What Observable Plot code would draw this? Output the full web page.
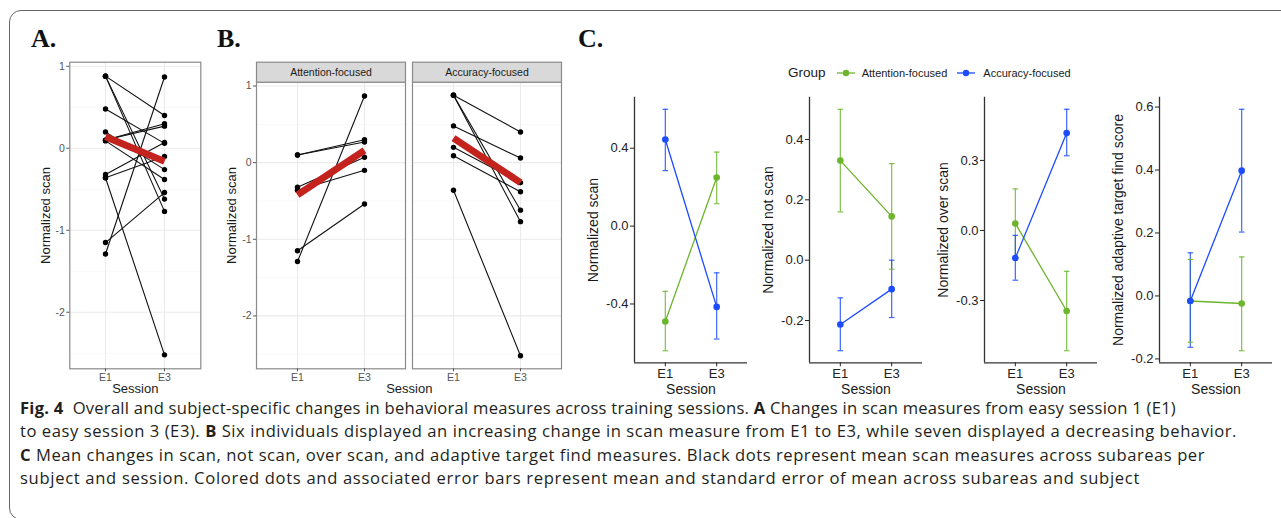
<!DOCTYPE html>
<html><head><meta charset="utf-8">
<script src="https://cdn.jsdelivr.net/npm/d3@7"></script>
<script src="https://cdn.jsdelivr.net/npm/@observablehq/plot@0.6"></script>
<style>
html,body{margin:0;padding:0;background:#fff;}
#page{position:relative;width:1281px;height:518px;overflow:hidden;font-family:"Liberation Sans",Arial,sans-serif;}
.plabel{position:absolute;font-family:"Liberation Serif","Times New Roman",serif;font-weight:bold;font-size:26px;line-height:26px;color:#111;}
.cap{position:absolute;left:20px;font-family:"Open Sans",sans-serif;font-size:16.6px;line-height:14px;white-space:nowrap;color:#231f20;}
.leg{position:absolute;white-space:nowrap;color:#1a1a1a;font-family:"Liberation Sans",Arial,sans-serif;}
</style></head>
<body><div id="page">
<div style="position:absolute;left:9px;top:10px;width:1300px;height:510px;border:1.5px solid #666;border-radius:12px;box-sizing:border-box;"></div>
<div class="plabel" style="left:31px;top:26px;">A.</div>
<div class="plabel" style="left:217px;top:26px;">B.</div>
<div class="plabel" style="left:578px;top:26px;">C.</div>
</div>
<script>
// ---------------- data ----------------
const sessions = ["E1", "E3"];
const groups = ["Attention-focused", "Accuracy-focused"];
const groupColors = ["#6CB52D", "#1D4BFF"];

// subject-level scan (panels A and B)
const subjectGroup = [
  "Attention-focused", "Attention-focused", "Attention-focused",
  "Attention-focused", "Attention-focused", "Attention-focused",
  "Accuracy-focused", "Accuracy-focused", "Accuracy-focused", "Accuracy-focused",
  "Accuracy-focused", "Accuracy-focused", "Accuracy-focused"
];
const scanE1 = [0.10, 0.10, -0.32, -0.36, -1.15, -1.29, 0.88, 0.88, 0.88, 0.48, 0.20, 0.09, -0.36];
const scanE3 = [0.27, 0.30, 0.07, -0.10, -0.54, 0.87, 0.40, -0.62, -0.77, 0.06, -0.26, -0.38, -2.52];
const trendOverall = [0.14, -0.16];
const trendAttention = [-0.42, 0.16];
const trendAccuracy = [0.32, -0.26];
const ticksAB = [-2, -1, 0, 1];
const minorAB = [-2.5, -1.5, -0.5, 0.5];

// group means and SEM (panel C); rows: scan, not scan, over scan, adaptive target find
const measureTitles = ["Normalized scan", "Normalized not scan", "Normalized over scan", "Normalized adaptive target find score"];
const measureTicks = [[-0.4, 0, 0.4], [-0.2, 0, 0.2, 0.4], [-0.3, 0, 0.3], [-0.2, 0, 0.2, 0.4, 0.6]];
const meanAttention = [[-0.49, 0.25], [0.33, 0.145], [0.03, -0.345], [-0.016, -0.024]];
const loAttention   = [[-0.64, 0.115], [0.16, -0.03], [-0.12, -0.515], [-0.147, -0.174]];
const hiAttention   = [[-0.335, 0.38], [0.50, 0.32], [0.178, -0.175], [0.116, 0.124]];
const meanAccuracy  = [[0.445, -0.415], [-0.213, -0.096], [-0.118, 0.417], [-0.016, 0.398]];
const loAccuracy    = [[0.285, -0.58], [-0.30, -0.19], [-0.213, 0.32], [-0.163, 0.203]];
const hiAccuracy    = [[0.60, -0.24], [-0.125, 0.0], [-0.021, 0.519], [0.137, 0.593]];

// ---------------- build ----------------
const page = document.getElementById("page");
const FONT = '"Liberation Sans", Arial, Helvetica, sans-serif';
const GRID_MAJOR = "#EBEBEB", GRID_MINOR = "#F3F3F3", BORDER = "#8a8a8a", RED = "#C4221D";
function place(el, left, top) {
  el.style.position = "absolute"; el.style.left = left + "px"; el.style.top = top + "px";
  page.appendChild(el);
}
function expand(lo, hi) { const p = (hi - lo) * 0.05; return [lo - p, hi + p]; }

const rows = subjectGroup.flatMap((g, i) => [
  {subject: i, group: g, session: sessions[0], value: scanE1[i]},
  {subject: i, group: g, session: sessions[1], value: scanE3[i]}
]);
const trendRowsA = sessions.map((s, j) => ({session: s, value: trendOverall[j]}));
const trendRowsB = [trendAttention, trendAccuracy].flatMap((t, k) =>
  sessions.map((s, j) => ({group: groups[k], session: s, value: t[j]})));
const yDomAB = expand(d3.min(rows, d => d.value), d3.max(rows, d => d.value));

const styleBase = {fontFamily: FONT, background: "transparent", overflow: "visible"};

// Panel A
const plotA = Plot.plot({
  width: 195, height: 350, marginLeft: 49.3, marginRight: 14.7, marginTop: 6.7, marginBottom: 36.7,
  style: styleBase,
  x: {type: "point", domain: sessions, padding: 0.6, label: null},
  y: {domain: yDomAB, label: null},
  marks: [
    Plot.ruleY(minorAB, {stroke: GRID_MINOR, strokeWidth: 0.6}),
    Plot.ruleY(ticksAB, {stroke: GRID_MAJOR, strokeWidth: 1.1}),
    Plot.ruleX(sessions, {stroke: GRID_MAJOR, strokeWidth: 1.1}),
    Plot.line(rows, {x: "session", y: "value", z: "subject", stroke: "#111", strokeWidth: 1.1}),
    Plot.dot(rows, {x: "session", y: "value", r: 2.7, fill: "#000"}),
    Plot.line(trendRowsA, {x: "session", y: "value", stroke: RED, strokeWidth: 7, strokeLinecap: "butt"}),
    Plot.frame({stroke: BORDER, strokeWidth: 1.2}),
    Plot.axisY({ticks: ticksAB, tickFormat: d => String(d), tickSize: 3, tickPadding: 2, fontSize: 10.5, color: "#555", label: null}),
    Plot.axisX({tickSize: 3, tickPadding: 2, fontSize: 10.5, color: "#555", label: null}),
    Plot.text(["Normalized scan"], {text: d => d, frameAnchor: "left", textAnchor: "middle", lineAnchor: "middle", rotate: -90, dx: -24.3, fontSize: 13, fill: "#1a1a1a"}),
    Plot.text(["Session"], {text: d => d, frameAnchor: "bottom", lineAnchor: "middle", dy: 19.9, fontSize: 13, fill: "#1a1a1a"})
  ]
});
place(plotA, 20, 55);

// Panel B
const plotB = Plot.plot({
  width: 352, height: 350, marginLeft: 40, marginRight: 5.3, marginTop: 26.7, marginBottom: 36.7,
  style: styleBase,
  fx: {domain: groups, paddingInner: 0.0428, paddingOuter: 0, axis: null, label: null},
  x: {type: "point", domain: sessions, padding: 0.6, label: null},
  y: {domain: yDomAB, label: null},
  marks: [
    Plot.ruleY(minorAB, {stroke: GRID_MINOR, strokeWidth: 0.6}),
    Plot.ruleY(ticksAB, {stroke: GRID_MAJOR, strokeWidth: 1.1}),
    Plot.ruleX(sessions, {stroke: GRID_MAJOR, strokeWidth: 1.1}),
    Plot.line(rows, {fx: "group", x: "session", y: "value", z: "subject", stroke: "#111", strokeWidth: 1.1}),
    Plot.dot(rows, {fx: "group", x: "session", y: "value", r: 2.7, fill: "#000"}),
    Plot.line(trendRowsB, {fx: "group", x: "session", y: "value", stroke: RED, strokeWidth: 7, strokeLinecap: "butt"}),
    Plot.frame({stroke: BORDER, strokeWidth: 1.2}),
    Plot.frame({fill: "#D9D9D9", stroke: BORDER, strokeWidth: 1.2, insetTop: -20, insetBottom: 286.6}),
    Plot.text(groups, {fx: d => d, text: d => d, frameAnchor: "top", lineAnchor: "middle", dy: -10, fontSize: 10.5, fill: "#1a1a1a"}),
    Plot.axisY({ticks: ticksAB, tickFormat: d => String(d), tickSize: 3, tickPadding: 2, fontSize: 10.5, color: "#555", label: null}),
    Plot.axisX({tickSize: 3, tickPadding: 2, fontSize: 10.5, color: "#555", label: null}),
    Plot.text(["Normalized scan"], {fx: () => groups[0], text: d => d, frameAnchor: "left", textAnchor: "middle", lineAnchor: "middle", rotate: -90, dx: -25, dy: -10, fontSize: 13, fill: "#1a1a1a"}),
    Plot.text(["Session"], {fx: () => groups[0], text: d => d, frameAnchor: "bottom", lineAnchor: "middle", dx: 78.3, dy: 20.2, fontSize: 13, fill: "#1a1a1a"})
  ]
});
place(plotB, 215, 55);

// Panel C
const capSymbol = {draw(ctx, size) { const r = Math.sqrt(size / Math.PI); ctx.moveTo(-r, 0); ctx.lineTo(r, 0); }};
function makeC(m) {
  const data = [];
  groups.forEach((g, k) => {
    const mean = [meanAttention, meanAccuracy][k][m], lo = [loAttention, loAccuracy][k][m], hi = [hiAttention, hiAccuracy][k][m];
    sessions.forEach((s, j) => data.push({group: g, pos: j + 1, session: s, mean: mean[j], lo: lo[j], hi: hi[j]}));
  });
  const yDom = expand(d3.min(data, d => d.lo), d3.max(data, d => d.hi));
  const xDom = [0.4, 2.6];
  return Plot.plot({
    width: 171, height: 315, marginLeft: 50, marginRight: 8, marginTop: 11.7, marginBottom: 37.7,
    style: styleBase,
    x: {domain: xDom, label: null},
    y: {domain: yDom, label: null},
    color: {domain: groups, range: groupColors},
    marks: [
      Plot.ruleX(data, {x: "pos", y1: "lo", y2: "hi", stroke: "group", strokeWidth: 1.2, strokeOpacity: 0.85}),
      Plot.dot(data, {x: "pos", y: "lo", symbol: capSymbol, r: 2.8, fill: "none", stroke: "group", strokeWidth: 1.2, strokeOpacity: 0.85}),
      Plot.dot(data, {x: "pos", y: "hi", symbol: capSymbol, r: 2.8, fill: "none", stroke: "group", strokeWidth: 1.2, strokeOpacity: 0.85}),
      Plot.line(data, {x: "pos", y: "mean", z: "group", stroke: "group", strokeWidth: 1.3}),
      Plot.dot(data, {x: "pos", y: "mean", r: 3.3, fill: "group"}),
      Plot.ruleX([xDom[0]], {stroke: "#333", strokeWidth: 1.3}),
      Plot.ruleY([yDom[0]], {stroke: "#333", strokeWidth: 1.3}),
      Plot.axisY({ticks: measureTicks[m], tickFormat: d => d.toFixed(1), tickSize: 4, tickPadding: 2, fontSize: 13, color: "#222", label: null}),
      Plot.axisX({ticks: [1, 2], tickFormat: i => sessions[i - 1], tickSize: 4, tickPadding: 2, fontSize: 13, color: "#222", label: null}),
      Plot.text([measureTitles[m]], {text: d => d, frameAnchor: "left", textAnchor: "middle", lineAnchor: "middle", rotate: -90, dx: -40.7, fontSize: 14, fill: "#1a1a1a"}),
      Plot.text(["Session"], {text: d => d, frameAnchor: "bottom", lineAnchor: "middle", dy: 26.4, fontSize: 14, fill: "#1a1a1a"})
    ]
  });
}
[634, 809, 984, 1159].forEach((left, m) => place(makeC(m), left - 50, 85));

// Legend for C
function legText(txt, left, size) {
  const d = document.createElement("div"); d.className = "leg"; d.textContent = txt;
  d.style.fontSize = size + "px"; d.style.lineHeight = "16px";
  place(d, left, 73.3 - 8);
}
function legKey(color, left) {
  const ns = "http://www.w3.org/2000/svg";
  const s = document.createElementNS(ns, "svg");
  s.setAttribute("width", 20); s.setAttribute("height", 10);
  const l = document.createElementNS(ns, "line");
  l.setAttribute("x1", 0); l.setAttribute("x2", 18); l.setAttribute("y1", 5); l.setAttribute("y2", 5);
  l.setAttribute("stroke", color); l.setAttribute("stroke-width", 1.3);
  const c = document.createElementNS(ns, "circle");
  c.setAttribute("cx", 9); c.setAttribute("cy", 5); c.setAttribute("r", 3.2); c.setAttribute("fill", color);
  s.appendChild(l); s.appendChild(c);
  s.style.position = "absolute"; s.style.left = left + "px"; s.style.top = (73.3 - 5) + "px";
  page.appendChild(s);
}
legText("Group", 788, 13.5);
legKey(groupColors[0], 836.5);
legText(groups[0], 861.7, 11);
legKey(groupColors[1], 957);
legText(groups[1], 983.3, 11);

// Caption
const captionLines = [
  '<b>Fig. 4</b>&nbsp; Overall and subject-specific changes in behavioral measures across training sessions. <b>A</b> Changes in scan measures from easy session 1 (E1)',
  'to easy session 3 (E3). <b>B</b> Six individuals displayed an increasing change in scan measure from E1 to E3, while seven displayed a decreasing behavior.',
  '<b>C</b> Mean changes in scan, not scan, over scan, and adaptive target find measures. Black dots represent mean scan measures across subareas per',
  'subject and session. Colored dots and associated error bars represent mean and standard error of mean across subareas and subject'
];
const captionEnds = [1176, 1237, 1205, 1140];
const captionBaselines = [414.5, 438, 461.5, 485];
captionLines.forEach((html, i) => {
  const d = document.createElement("div"); d.className = "cap"; d.innerHTML = html;
  place(d, 20, captionBaselines[i] - 13.6);
  const w = d.getBoundingClientRect().width;
  const n = d.textContent.length;
  d.style.letterSpacing = ((captionEnds[i] - 20 - w) / n) + "px";
});
</script>
</body></html>
